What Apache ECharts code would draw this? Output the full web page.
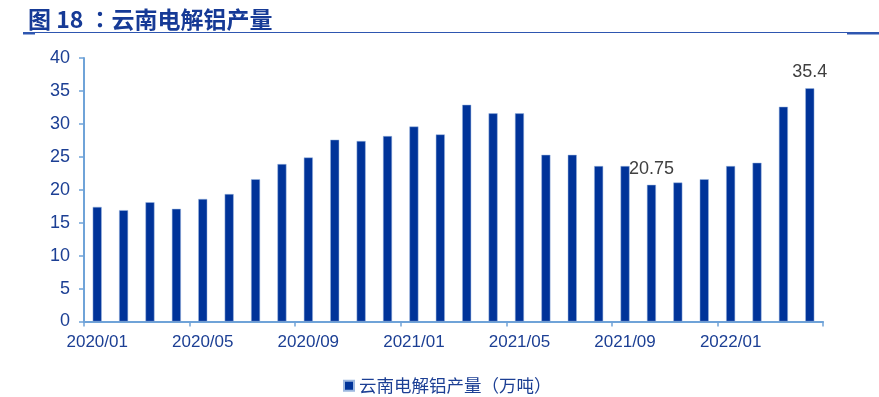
<!DOCTYPE html>
<html>
<head>
<meta charset="UTF-8">
<title>云南电解铝产量</title>
<script src="https://cdn.jsdelivr.net/npm/echarts@6/dist/echarts.min.js"></script>
<style>
  html, body { margin: 0; padding: 0; background: #fff; }
  #chart { width: 879px; height: 397px; }
</style>
</head>
<body>
<div id="chart"></div>
<script>
  // 月份
  var months = ['2020/01','2020/02','2020/03','2020/04','2020/05','2020/06','2020/07','2020/08','2020/09','2020/10','2020/11','2020/12',
                '2021/01','2021/02','2021/03','2021/04','2021/05','2021/06','2021/07','2021/08','2021/09','2021/10','2021/11','2021/12',
                '2022/01','2022/02','2022/03','2022/04'];
  // 云南电解铝产量（万吨）
  var output = [17.4, 16.9, 18.1, 17.1, 18.6, 19.35, 21.6, 23.9, 24.9, 27.6, 27.4, 28.15,
                29.6, 28.4, 32.9, 31.6, 31.6, 25.3, 25.3, 23.6, 23.6, 20.75, 21.1, 21.6,
                23.6, 24.1, 32.6, 35.4];
  // 需要标注数值的月份
  var labelled = ['2021/10', '2022/04'];

  var textBlue = '#1c3f94';
  var axisBlue = '#6fa3d8';
  var barBlue = '#003399';

  var myChart = echarts.init(document.getElementById('chart'));
  var option = {
    animation: false,
    title: {
      text: '图 18 ：云南电解铝产量',
      left: 23,
      top: 3,
      textStyle: { color: '#163a96', fontSize: 23, fontWeight: 'bold', fontFamily: 'Noto Sans CJK TC' }
    },
    graphic: [
      { type: 'rect', shape: { x: 23, y: 32, width: 856, height: 1 }, style: { fill: '#2e56b0' } },
      { type: 'rect', shape: { x: 23, y: 32, width: 12, height: 2.5 }, style: { fill: '#2e56b0' } },
      { type: 'rect', shape: { x: 847, y: 32, width: 32, height: 2.5 }, style: { fill: '#2e56b0' } }
    ],
    grid: { left: 84, right: 56, top: 58, bottom: 75.5 },
    legend: {
      top: 372,
      left: 338,
      itemWidth: 10,
      itemHeight: 10,
      itemGap: 6,
      icon: 'rect',
      textStyle: { color: textBlue, fontSize: 17.5, fontFamily: 'Noto Sans CJK TC' },
      data: ['云南电解铝产量（万吨）']
    },
    xAxis: {
      type: 'category',
      data: months,
      boundaryGap: true,
      axisLine: { lineStyle: { color: axisBlue, width: 2 } },
      axisTick: { show: true, interval: 3, length: 5, lineStyle: { color: axisBlue, width: 1.5 } },
      axisLabel: { interval: 3, color: textBlue, fontSize: 17, margin: 12, fontFamily: 'Liberation Sans' }
    },
    yAxis: {
      type: 'value',
      min: 0,
      max: 40,
      interval: 5,
      splitLine: { show: false },
      axisLine: { show: true, lineStyle: { color: axisBlue, width: 2 } },
      axisTick: { show: true, length: 5, lineStyle: { color: axisBlue, width: 1.5 } },
      axisLabel: { color: textBlue, fontSize: 18, margin: 14, fontFamily: 'Liberation Sans' }
    },
    series: [{
      name: '云南电解铝产量（万吨）',
      type: 'bar',
      barWidth: 9,
      itemStyle: { color: barBlue, borderColor: '#9db8e0', borderWidth: 0.5 },
      label: {
        show: true,
        position: 'top',
        distance: 7,
        color: '#404040',
        fontSize: 18,
        fontFamily: 'Liberation Sans',
        formatter: function (p) {
          return labelled.indexOf(p.name) >= 0 ? String(p.value) : '';
        }
      },
      data: output
    }]
  };
  myChart.setOption(option);
</script>
</body>
</html>
